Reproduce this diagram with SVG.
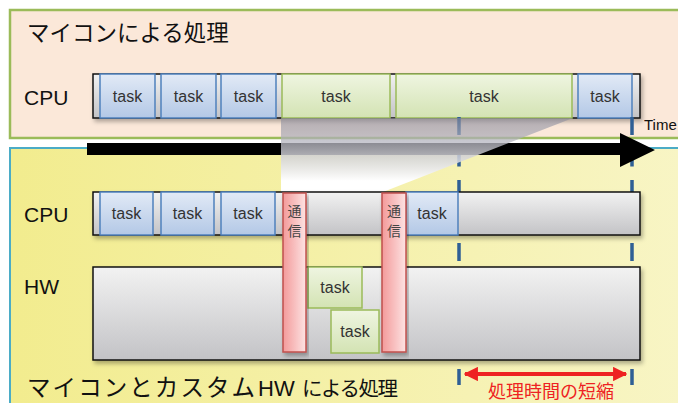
<svg xmlns="http://www.w3.org/2000/svg" width="678" height="403" viewBox="0 0 678 403">
<defs>
<linearGradient id="gYellow" x1="0" y1="0" x2="1" y2="0"><stop offset="0" stop-color="#f2ec8e"/><stop offset="1" stop-color="#f8f5c6"/></linearGradient>
<linearGradient id="gGray" x1="0" y1="0" x2="0" y2="1"><stop offset="0" stop-color="#f2f2f2"/><stop offset="1" stop-color="#c3c3c6"/></linearGradient>
<linearGradient id="gBlue" x1="0" y1="0" x2="0" y2="1"><stop offset="0" stop-color="#e2eaf6"/><stop offset="1" stop-color="#b3c8e6"/></linearGradient>
<linearGradient id="gGreen" x1="0" y1="0" x2="0" y2="1"><stop offset="0" stop-color="#eff5e1"/><stop offset="1" stop-color="#d3e3b3"/></linearGradient>
<linearGradient id="gRed" x1="0" y1="0" x2="1" y2="0"><stop offset="0" stop-color="#f39a9a"/><stop offset="1" stop-color="#fde3e3"/></linearGradient>
<linearGradient id="gTrap" gradientUnits="userSpaceOnUse" x1="0" y1="118" x2="0" y2="192"><stop offset="0" stop-color="#8a8a9a" stop-opacity="0.6"/><stop offset="0.85" stop-color="#ffffff" stop-opacity="1"/><stop offset="1" stop-color="#ffffff" stop-opacity="1"/></linearGradient>
<filter id="sh" x="-10%" y="-20%" width="120%" height="150%"><feDropShadow dx="2" dy="3" stdDeviation="2" flood-color="#000" flood-opacity="0.3"/></filter>
<marker id="rArr" viewBox="0 0 10 10" refX="9" refY="5" markerWidth="3.6" markerHeight="3.6" orient="auto-start-reverse"><path d="M0,0 L10,5 L0,10 z" fill="#ee2222"/></marker>
</defs>
<style>
.bar{fill:url(#gGray);stroke:#111;stroke-width:1.5;filter:url(#sh)}
.blue{fill:url(#gBlue);stroke:#4f81bd;stroke-width:1.5}
.green{fill:url(#gGreen);stroke:#9bbb59;stroke-width:1.5}
.red{fill:url(#gRed);stroke:#c0504d;stroke-width:1.5;filter:url(#sh)}
.tk{font-family:"Liberation Sans",Arial,sans-serif;font-size:16px;fill:#333;text-anchor:middle}
.lbl{font-family:"Liberation Sans",Arial,sans-serif;font-size:21px;fill:#111}
.jp{font-family:"Noto Sans CJK JP",sans-serif;fill:#111}
.com{font-family:"Noto Sans CJK JP",sans-serif;font-size:14px;fill:#444;text-anchor:middle}
.dash{stroke:#2f5f95;stroke-width:3.5;stroke-dasharray:18 13.5;fill:none}
</style>

<g id="panel-top">
<rect x="10" y="10" width="690" height="128" fill="#fbe8d9" stroke="#9bbb59" stroke-width="2.5"/>
<text class="jp" x="27" y="41" font-size="22.5">マイコンによる処理</text>
<text class="lbl" x="24" y="105">CPU</text>
</g>

<g id="panel-bottom">
<rect x="10" y="148" width="690" height="270" fill="url(#gYellow)" stroke="#4bacc6" stroke-width="2"/>
<text class="lbl" x="24" y="222">CPU</text>
<text class="lbl" x="24" y="294">HW</text>
<text class="jp" x="27" y="396" font-size="23.5" textLength="228" lengthAdjust="spacing">マイコンとカスタム</text>
<text x="258" y="396" font-family="Liberation Sans, Arial, sans-serif" font-size="22" fill="#111">HW</text>
<text class="jp" x="302" y="396" font-size="20.5" textLength="96" lengthAdjust="spacing">による処理</text>
</g>

<g id="cpu-top">
<rect class="bar" x="93" y="74" width="547" height="44"/>
<g id="t1"><rect class="blue" x="100" y="74" width="55" height="44"/><text class="tk" x="127.5" y="102">task</text></g>
<g id="t2"><rect class="blue" x="161" y="74" width="55" height="44"/><text class="tk" x="188.5" y="102">task</text></g>
<g id="t3"><rect class="blue" x="221" y="74" width="55" height="44"/><text class="tk" x="248.5" y="102">task</text></g>
<g id="t4"><rect class="green" x="282" y="74" width="108" height="44"/><text class="tk" x="336" y="102">task</text></g>
<g id="t5"><rect class="green" x="396" y="74" width="176" height="44"/><text class="tk" x="484" y="102">task</text></g>
<g id="t6"><rect class="blue" x="578" y="74" width="54" height="44"/><text class="tk" x="605" y="102">task</text></g>
</g>

<g id="connectors">
<path class="dash" d="M459,117 V385"/>
<path class="dash" d="M632,117 V385"/>
<polygon id="time-arrow" points="87,143 620,143 620,133 655,150 620,167 620,155 87,155" fill="#000"/>
<text x="644" y="130" font-family="Liberation Sans, Arial, sans-serif" font-size="15" fill="#111">Time</text>
<polygon id="zoom" points="281,118 573,118 383,192 281,192" fill="url(#gTrap)"/>
<line x1="465" y1="374" x2="626" y2="374" stroke="#ee2222" stroke-width="4" marker-start="url(#rArr)" marker-end="url(#rArr)"/>
<text x="551" y="398" font-family="Noto Sans CJK JP, sans-serif" font-size="18" fill="#ee2222" text-anchor="middle">処理時間の短縮</text>
</g>

<g id="cpu-bottom">
<rect class="bar" x="93" y="192" width="547" height="43"/>
<g id="b1"><rect class="blue" x="100" y="192" width="53" height="43"/><text class="tk" x="126.5" y="219">task</text></g>
<g id="b2"><rect class="blue" x="161" y="192" width="53" height="43"/><text class="tk" x="187.5" y="219">task</text></g>
<g id="b3"><rect class="blue" x="221" y="192" width="54" height="43"/><text class="tk" x="248" y="219">task</text></g>
<g id="b4"><rect class="blue" x="406" y="192" width="52" height="43"/><text class="tk" x="432" y="219">task</text></g>
</g>

<g id="hw">
<rect class="bar" x="93" y="267" width="547" height="93"/>
<g id="h1"><rect class="green" x="308" y="267" width="54" height="41"/><text class="tk" x="335" y="293">task</text></g>
<g id="h2"><rect class="green" x="331" y="310" width="48" height="43"/><text class="tk" x="355" y="337">task</text></g>
</g>

<g id="comm1"><rect class="red" x="283" y="193" width="23" height="159"/><text class="com" x="294.5" y="216">通</text><text class="com" x="294.5" y="236">信</text></g>
<g id="comm2"><rect class="red" x="382" y="193" width="24" height="159"/><text class="com" x="394" y="216">通</text><text class="com" x="394" y="236">信</text></g>
</svg>
